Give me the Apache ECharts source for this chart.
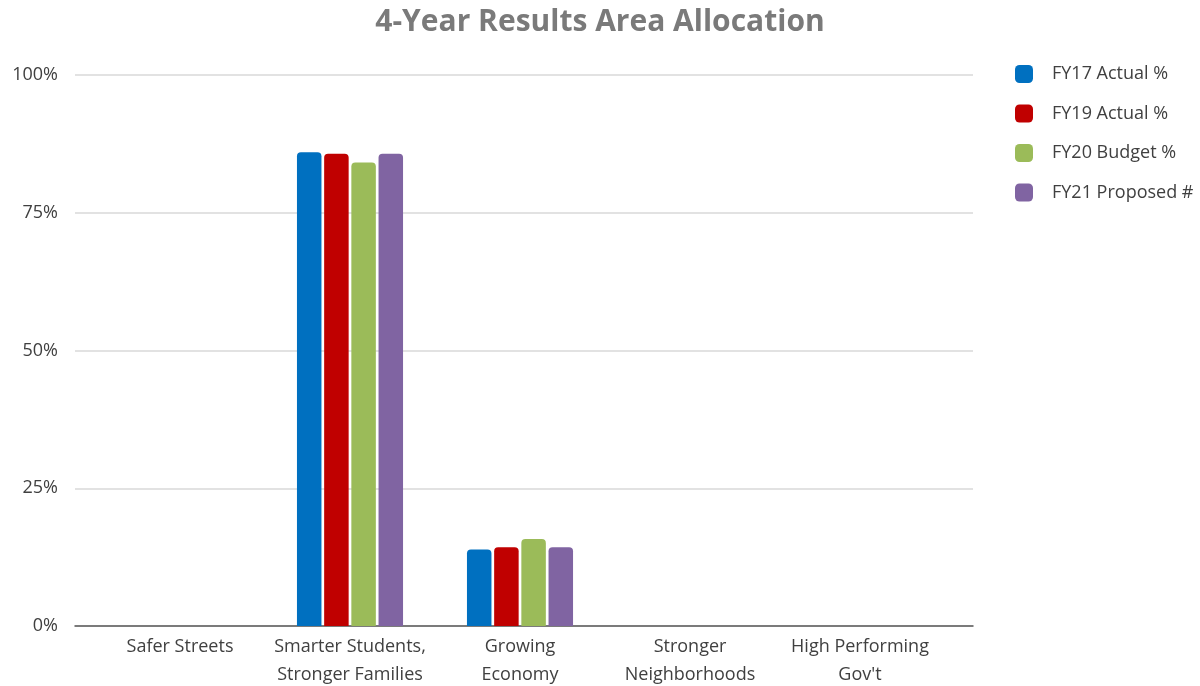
<!DOCTYPE html>
<html><head><meta charset="utf-8">
<script src="https://cdn.jsdelivr.net/npm/echarts@6/dist/echarts.min.js"></script>
<style>html,body{margin:0;padding:0;background:#fff}#c{width:1200px;height:686px}</style>
</head><body><div id="c"></div>
<script>
const categories = ['Safer Streets', 'Smarter Students,\nStronger Families', 'Growing\nEconomy', 'Stronger\nNeighborhoods', "High Performing\nGov't"];
const seriesNames = ['FY17 Actual %', 'FY19 Actual %', 'FY20 Budget %', 'FY21 Proposed #'];
const fy17 = [0, 86.0, 13.9, 0, 0];
const fy19 = [0, 85.7, 14.3, 0, 0];
const fy20 = [0, 84.1, 15.8, 0, 0];
const fy21 = [0, 85.7, 14.3, 0, 0];
const yTicks = [0, 25, 50, 75, 100];
const colors = ['#0070C0', '#C00000', '#9BBB59', '#8064A2'];
const values = [fy17, fy19, fy20, fy21];
const FONT = 'Open Sans';

const chart = echarts.init(document.getElementById('c'), null, {renderer: 'canvas'});
chart.setOption({
  animation: false,
  backgroundColor: '#fff',
  title: {
    text: '4-Year Results Area Allocation',
    left: 'center', top: 2,
    textStyle: {fontFamily: FONT, fontWeight: 'bold', fontSize: 30, color: '#7a7a7a'}
  },
  legend: {
    orient: 'vertical', left: 1015, top: 65, padding: 0,
    itemWidth: 18, itemHeight: 18, itemGap: 21.5,
    icon: 'roundRect',
    data: seriesNames,
    textStyle: {fontFamily: FONT, fontSize: 18, color: '#404040', padding: [0, 0, 0, 14]}
  },
  grid: [
    {left: 75, right: 227, top: 75, bottom: 60, containLabel: false, outerBoundsMode: 'none'},
    {left: 95, right: 255, top: 75, bottom: 60, containLabel: false, outerBoundsMode: 'none'}
  ],
  xAxis: [
    {type: 'category', gridIndex: 0, data: categories,
     axisLine: {show: true, lineStyle: {color: '#595959', width: 1.5}},
     axisTick: {show: false}, axisLabel: {show: false}, splitLine: {show: false}},
    {type: 'category', gridIndex: 1, data: categories,
     axisLine: {show: false}, axisTick: {show: false},
     axisLabel: {fontFamily: FONT, fontSize: 18, color: '#404040', lineHeight: 28, margin: 7, interval: 0}}
  ],
  yAxis: [
    {type: 'value', gridIndex: 0, min: yTicks[0], max: yTicks[yTicks.length - 1], interval: 25,
     axisLine: {show: false}, axisTick: {show: false},
     axisLabel: {formatter: v => v + '%', fontFamily: FONT, fontSize: 18, color: '#404040', margin: 17},
     splitLine: {lineStyle: {color: '#d9d9d9', width: 1.5}}},
    {type: 'value', gridIndex: 1, min: yTicks[0], max: yTicks[yTicks.length - 1], interval: 25,
     show: false, splitLine: {show: false}}
  ],
  series: seriesNames.map((n, i) => ({
    name: n, type: 'bar', xAxisIndex: 1, yAxisIndex: 1,
    data: values[i], barWidth: 24.5, barGap: '11%',
    itemStyle: {color: colors[i], borderRadius: [4, 4, 0, 0]}
  }))
});
</script></body></html>
